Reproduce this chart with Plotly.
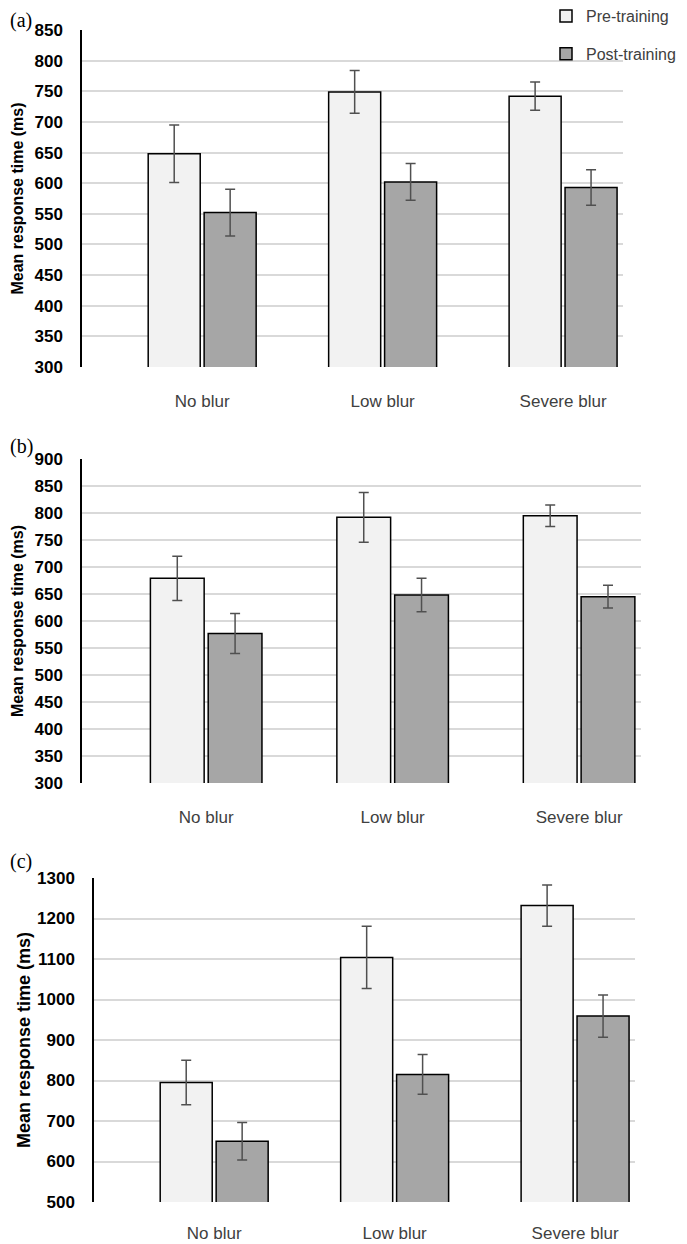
import plotly.graph_objects as go

categories = ["No blur", "Low blur", "Severe blur"]
series_names = ["Pre-training", "Post-training"]
panel_labels = ["(a)", "(b)", "(c)"]
y_title = "Mean response time (ms)"

# Panel (a)
pre_a = [648, 749, 742]
pre_a_err = [47, 35, 23]
post_a = [552, 602, 593]
post_a_err = [38, 30, 29]
# Panel (b)
pre_b = [679, 792, 795]
pre_b_err = [41, 46, 20]
post_b = [577, 648, 645]
post_b_err = [37, 31, 21]
# Panel (c)
pre_c = [795, 1104, 1232]
pre_c_err = [55, 77, 51]
post_c = [650, 815, 959]
post_c_err = [46, 49, 52]

y_ranges = [[300, 850], [300, 900], [500, 1300]]
y_dticks = [50, 50, 100]

# page body adds an 8px margin, so the figure is laid out in shifted pixels
OFF = 8
W, H = 687 - OFF, 1244 - OFF
# plot boxes in page pixels: (left, right, top, bottom)
boxes = [(82, 623, 30, 367), (82, 641, 459, 783), (94, 635, 878, 1202)]
label_pos = [(18, 21), (18, 446), (18, 862)]
ytitle_x = [17, 17, 24]
ytitle_size = [16, 16, 18]
xlabel_gap = [19, 19, 16]

PRE_COLOR = "#f2f2f2"
POST_COLOR = "#a6a6a6"
FONT = "Liberation Sans, Arial, sans-serif"


def px_x(v):
    return (v - OFF) / W


def px_y(v):
    return 1 - (v - OFF) / H


panels = [
    (pre_a, pre_a_err, post_a, post_a_err),
    (pre_b, pre_b_err, post_b, post_b_err),
    (pre_c, pre_c_err, post_c, post_c_err),
]

fig = go.Figure()
annotations = []
for i, (pre, pre_err, post, post_err) in enumerate(panels):
    xa = "x" if i == 0 else f"x{i+1}"
    ya = "y" if i == 0 else f"y{i+1}"
    for name, vals, errs, col in [
        (series_names[0], pre, pre_err, PRE_COLOR),
        (series_names[1], post, post_err, POST_COLOR),
    ]:
        fig.add_trace(go.Bar(
            x=categories, y=vals, name=name, xaxis=xa, yaxis=ya,
            marker=dict(color=col, line=dict(color="#000000", width=1.5)),
            error_y=dict(type="data", array=errs, color="#505050",
                         thickness=1.5, width=5),
            showlegend=(i == 0), legendgroup=name,
        ))
    l, r, t, b = boxes[i]
    xkey = "xaxis" if i == 0 else f"xaxis{i+1}"
    ykey = "yaxis" if i == 0 else f"yaxis{i+1}"
    fig.update_layout(**{
        xkey: dict(domain=[px_x(l), px_x(r)], anchor=ya, type="category",
                   range=[-0.666, 2.332], showgrid=False, showline=False,
                   zeroline=False, ticks="outside", ticklen=xlabel_gap[i],
                   tickcolor="rgba(0,0,0,0)", automargin=False,
                   tickfont=dict(family=FONT, size=17, color="#404040")),
        ykey: dict(domain=[px_y(b), px_y(t)], anchor=xa,
                   range=y_ranges[i], dtick=y_dticks[i], tick0=0,
                   showgrid=True, gridcolor="#d9d9d9", gridwidth=1.5,
                   showline=True, linecolor="#000000", linewidth=1.5,
                   zeroline=False, ticks="outside", ticklen=14,
                   tickcolor="rgba(0,0,0,0)", automargin=False,
                   tickfont=dict(family=FONT, size=17, color="#000000",
                                 weight="bold")),
    })
    lx, ly = label_pos[i]
    annotations.append(dict(
        text=panel_labels[i], xref="paper", yref="paper",
        x=0, y=px_y(ly), xanchor="left", yanchor="middle",
        showarrow=False,
        font=dict(family="Liberation Serif, Times New Roman, serif",
                  size=20, color="#000000")))
    annotations.append(dict(
        text=y_title, xref="paper", yref="paper",
        x=px_x(ytitle_x[i]), y=px_y((t + b) / 2), xanchor="center",
        yanchor="middle", textangle=-90, showarrow=False,
        font=dict(family=FONT, size=ytitle_size[i], color="#000000",
                  weight="bold")))

fig.update_layout(
    width=W, height=H,
    margin=dict(l=0, r=0, t=0, b=0, autoexpand=False),
    paper_bgcolor="#ffffff", plot_bgcolor="#ffffff",
    barmode="group", bargap=0.38, bargroupgap=0.07,
    annotations=annotations,
    legend=dict(x=px_x(546), y=px_y(-1), xanchor="left", yanchor="top",
                xref="paper", yref="paper", bgcolor="rgba(0,0,0,0)",
                font=dict(family=FONT, size=16, color="#404040"),
                tracegroupgap=14, itemwidth=30),
    showlegend=True,
)

fig.write_html("out.html")
